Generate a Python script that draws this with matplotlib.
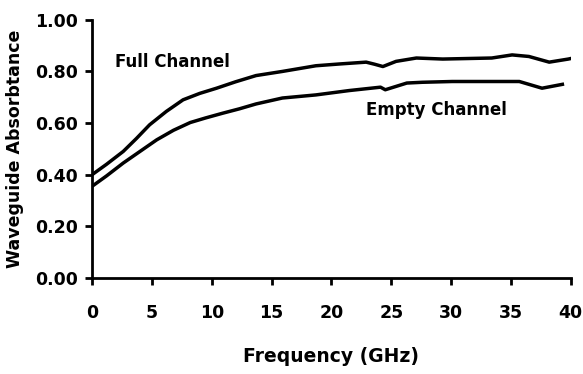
import numpy as np
import matplotlib
matplotlib.use('Agg')
import matplotlib.pyplot as plt

plt.rcParams['font.family'] = ['DejaVu Sans']
plt.rcParams['font.weight'] = 'bold'

# values
freq_full = [0, 1.2, 2.6, 3.7, 4.8, 6.2, 7.6, 9.0, 10.4, 12.0, 13.7, 15.9, 18.7,
             20.7, 22.9, 23.6, 24.3, 25.4, 27.1, 29.3, 33.4, 35.1, 36.5, 38.2, 39.8, 40]
full_channel = [0.40, 0.44, 0.49, 0.54, 0.593, 0.645, 0.69, 0.715, 0.735, 0.76, 0.784, 0.80, 0.822,
                0.829, 0.836, 0.828, 0.819, 0.839, 0.852, 0.848, 0.852, 0.864, 0.858, 0.836, 0.848, 0.85]

freq_empty = [0, 1.2, 2.6, 4.0, 5.4, 6.8, 8.2, 9.5, 10.9, 12.3, 13.7, 15.9, 18.7, 21.5,
              24.1, 24.5, 26.3, 27.6, 30.1, 33.2, 35.7, 37.6, 39.3]
empty_channel = [0.355, 0.395, 0.445, 0.49, 0.535, 0.572, 0.602, 0.62, 0.638, 0.655, 0.674, 0.697, 0.709, 0.726,
                 0.739, 0.729, 0.755, 0.758, 0.761, 0.761, 0.761, 0.735, 0.75]

x_ticks = [0, 5, 10, 15, 20, 25, 30, 35, 40]
y_ticks = [0.0, 0.2, 0.4, 0.6, 0.8, 1.0]

fig = plt.figure(figsize=(5.83, 3.74), dpi=100)
ax = fig.add_axes([0.158, 0.257, 0.821, 0.69])

ax.plot(freq_full, full_channel, color='black', lw=2.5)
ax.plot(freq_empty, empty_channel, color='black', lw=2.5)

ax.text(1.9, 0.837, 'Full Channel', fontsize=12, fontweight='bold', va='center')
ax.text(22.9, 0.651, 'Empty Channel', fontsize=12, fontweight='bold', va='center')

ax.set_xlim(0, 40)
ax.set_ylim(0, 1.0)
ax.set_xticks(x_ticks)
ax.set_yticks(y_ticks)
ax.set_yticklabels(['%.2f' % v for v in y_ticks])

for s in ['top', 'right']:
    ax.spines[s].set_visible(False)
for s in ['left', 'bottom']:
    ax.spines[s].set_linewidth(2)
    ax.spines[s].set_clip_on(False)

ax.tick_params(direction='out', length=5, width=2, labelsize=12.5, pad=5)
ax.tick_params(axis='x', pad=14)
for lab in ax.get_xticklabels() + ax.get_yticklabels():
    lab.set_fontweight('bold')

ax.set_xlabel('Frequency (GHz)', fontsize=13.5, fontweight='bold', labelpad=18)
ax.set_ylabel('Waveguide Absorbtance', fontsize=12.5, fontweight='bold', labelpad=8)

fig.savefig('out.png', dpi=100)
